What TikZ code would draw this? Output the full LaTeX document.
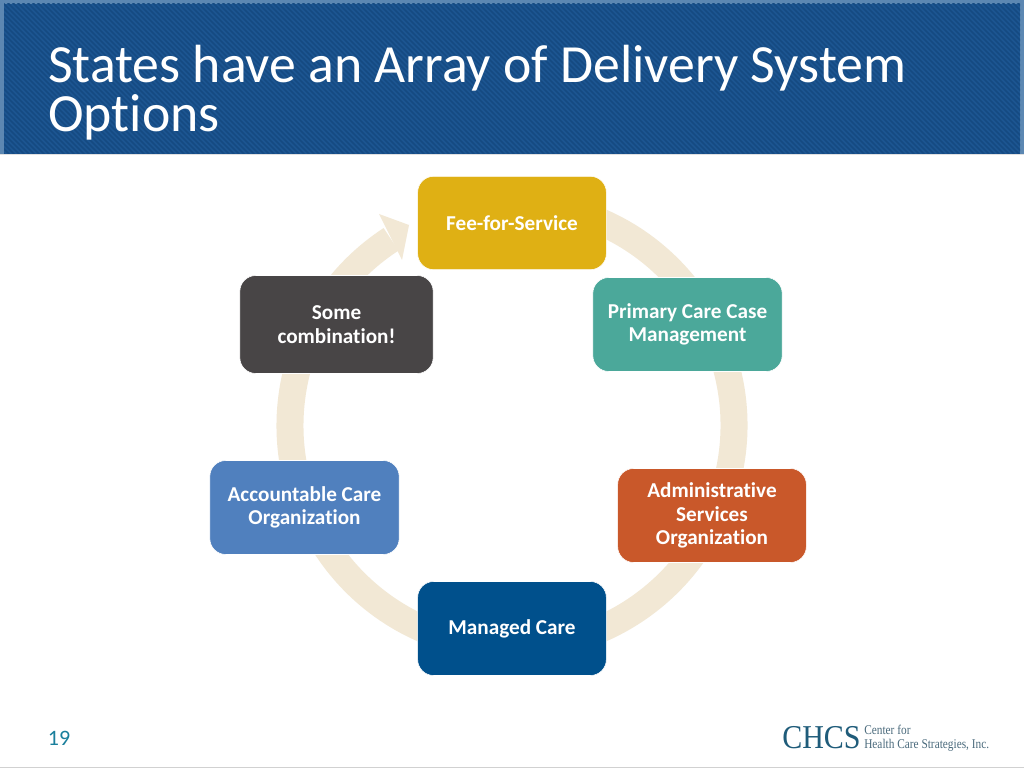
\documentclass[tikz,border=0pt]{standalone}
\usepackage{fontspec}
\setmainfont[Ligatures=NoCommon]{Carlito}
\newfontfamily\logofont[FakeStretch=0.9]{Liberation Serif}
\newfontfamily\logosmall[FakeStretch=0.85]{Liberation Serif}
\definecolor{banner}{HTML}{1D5692}
\definecolor{bannerdark}{HTML}{154A82}
\definecolor{bannerrim}{HTML}{5C87B2}
\definecolor{ringc}{HTML}{F2E8D5}
\definecolor{goldc}{HTML}{DFB014}
\definecolor{tealc}{HTML}{4BA89A}
\definecolor{orangec}{HTML}{C9582A}
\definecolor{navyc}{HTML}{00508C}
\definecolor{bluec}{HTML}{5080BE}
\definecolor{darkc}{HTML}{484546}
\definecolor{numc}{HTML}{1A7F9C}
\definecolor{logoc}{HTML}{1F5C7A}
\definecolor{logogr}{HTML}{4A6A7C}
\tikzset{
 x=.75pt,y=.75pt,
 cyclebox/.style={rectangle,rounded corners=12pt,draw=white,line width=.4pt,text=white,
   font=\fontsize{15.9}{17.6}\selectfont\bfseries,align=center,anchor=center},
 titletext/.style={text=white,font=\fontsize{40.3}{37}\selectfont,align=left,anchor=north west,inner sep=0pt},
 ringarc/.style={draw=ringc,line width=20.25pt},
}
\begin{document}
\begin{tikzpicture}
\useasboundingbox (0,0) rectangle (1024,768);
\fill[white] (0,0) rectangle (1024,768);
% banner
\fill[bannerrim] (0,614) rectangle (1024,768);
\begin{scope}
\clip (4,614) rectangle (1020,764);
\fill[banner] (4,614) rectangle (1020,764);
\foreach \i in {0,5,...,1180}{
  \draw[bannerdark,line width=1.3pt] (\i-160,768) -- (\i,608);
}
\end{scope}
\fill[black!12] (0,613) rectangle (1024,614);
\node[titletext] (title) at (48,723) {States have an Array of Delivery System\\Options};
% ring
\coordinate (c) at (512,342.5);
\draw[ringarc] ([shift={(c)}]80:222) arc (80:-237:222);
\coordinate (tipA) at (409,543);
\coordinate (tipB) at (379,554);
\coordinate (tipC) at (402,508);
\fill[ringc] (tipA) -- (tipB) -- (tipC) -- cycle;
% boxes
\node[cyclebox,fill=goldc,minimum width=141.5pt,minimum height=70pt] (fee) at (512,545) {Fee-for-Service};
\node[cyclebox,fill=tealc,minimum width=142pt,minimum height=70.5pt] (pccm) at (687.5,443.5) {Primary Care Case\\Management};
\node[cyclebox,fill=orangec,minimum width=141.5pt,minimum height=70.5pt] (aso) at (712,252.5) {Administrative\\Services\\Organization};
\node[cyclebox,fill=navyc,minimum width=141.5pt,minimum height=70.5pt] (mc) at (512,139.5) {Managed Care};
\node[cyclebox,fill=bluec,minimum width=142pt,minimum height=70.5pt] (aco) at (304.5,260.5) {Accountable Care\\Organization};
\node[cyclebox,fill=darkc,minimum width=145pt,minimum height=73.5pt] (some) at (336.5,443.5) {Some\\combination!};
% footer
\node[text=numc,font=\fontsize{16.5}{18}\selectfont,inner sep=0pt] (num) at (59,30) {19};
\node[text=logoc,font=\logofont\fontsize{25}{26}\selectfont,inner sep=0pt,anchor=base west] (chcs) at (782,20) {CHCS};
\node[text=logogr,font=\logosmall\fontsize{10}{10.2}\selectfont,inner sep=0pt,align=left,anchor=west] (cfor) at (864,29.5) {Center for\\Health Care Strategies, Inc.};
\fill[black!18] (0,0) rectangle (1024,1);
\end{tikzpicture}
\end{document}
